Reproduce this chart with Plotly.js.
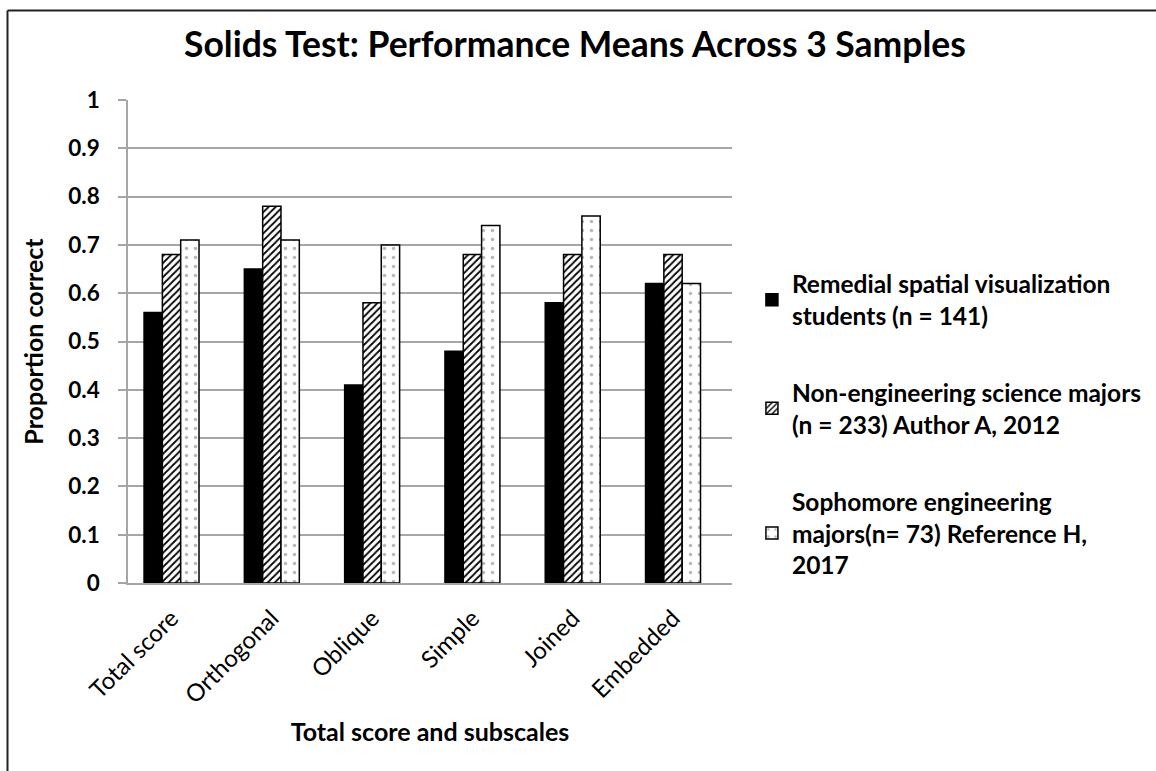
<!DOCTYPE html>
<html>
<head>
<meta charset="utf-8">
<script src="https://cdn.plot.ly/plotly-3.0.1.min.js"></script>
<style>html,body{margin:0;padding:0;background:#fff;}#chart{width:1156px;height:771px;}</style>
</head>
<body>
<div id="chart"></div>
<script>
const categories = ["Total score", "Orthogonal", "Oblique", "Simple", "Joined", "Embedded"];
const remedial = [0.56, 0.65, 0.41, 0.48, 0.58, 0.62];
const nonEngineering = [0.68, 0.78, 0.58, 0.68, 0.68, 0.68];
const sophomore = [0.71, 0.71, 0.70, 0.74, 0.76, 0.62];
const seriesNames = [
  "Remedial spatial visualization<br>students (n = 141)",
  "Non-engineering science majors<br>(n = 233) Author A, 2012",
  "Sophomore engineering<br>majors(n= 73) Reference H,<br>2017"
];
const yTicks = [0, 0.1, 0.2, 0.3, 0.4, 0.5, 0.6, 0.7, 0.8, 0.9, 1];
const yTickText = ["0", "0.1", "0.2", "0.3", "0.4", "0.5", "0.6", "0.7", "0.8", "0.9", "1"];

const FONT = "Lato, 'Open Sans', sans-serif";

const traces = [
  {
    type: "bar", x: categories, y: remedial, name: seriesNames[0], legendgroup: "a",
    marker: {color: "#000000", line: {color: "#000000", width: 1.5}},
    hoverinfo: "y"
  },
  {
    type: "bar", x: categories, y: nonEngineering, name: seriesNames[1], legendgroup: "b",
    marker: {color: "#ffffff", line: {color: "#000000", width: 1.5},
      pattern: {shape: "/", fgcolor: "#000000", bgcolor: "#ffffff", size: 5, solidity: 0.35}},
    hoverinfo: "y"
  },
  {
    type: "bar", x: categories, y: sophomore, name: seriesNames[2], legendgroup: "c",
    marker: {color: "#ffffff", line: {color: "#000000", width: 1.5},
      pattern: {shape: ".", fgcolor: "#b8b8b8", bgcolor: "#ffffff", size: 9, solidity: 0.12}},
    hoverinfo: "y"
  }
];

const layout = {
  width: 1156, height: 771,
  margin: {l: 128, r: 424, t: 100, b: 188, pad: 0, autoexpand: false},
  paper_bgcolor: "#ffffff", plot_bgcolor: "#ffffff",
  font: {family: FONT, color: "#000000"},
  title: {
    text: "Solids Test: Performance Means Across 3 Samples",
    font: {family: FONT, size: 35.5, weight: "bold", color: "#000000"},
    x: 0.74, xanchor: "center", xref: "paper", y: 0.942, yanchor: "middle", yref: "container"
  },
  barmode: "group", bargap: 0.452, bargroupgap: 0,
  showlegend: true,
  legend: {
    x: 1.033, xanchor: "left", y: 0.666, yanchor: "top",
    font: {family: FONT, size: 24.5, weight: "bold", color: "#000000"},
    tracegroupgap: 42, itemwidth: 30, traceorder: "grouped",
    bgcolor: "rgba(0,0,0,0)"
  },
  xaxis: {
    type: "category", range: [-0.434, 5.588],
    tickangle: -45, tickfont: {family: FONT, size: 24, color: "#000000"},
    ticklabelstandoff: 10,
    showgrid: false, showline: true, linecolor: "#a6a6a6", linewidth: 1.5,
    ticks: "", zeroline: false,
    title: {text: "Total score and subscales", standoff: 16,
      font: {family: FONT, size: 25, weight: "bold", color: "#000000"}}
  },
  yaxis: {
    range: [0, 1], tickvals: yTicks, ticktext: yTickText,
    tickfont: {family: FONT, size: 22.5, weight: "bold", color: "#000000"},
    showgrid: true, gridcolor: "#a6a6a6", gridwidth: 1.5,
    showline: true, linecolor: "#a6a6a6", linewidth: 1.5,
    ticks: "outside", ticklen: 8, tickcolor: "#a6a6a6", tickwidth: 1.5,
    ticklabelstandoff: 14, zeroline: false,
    title: {text: "Proportion correct", standoff: 18,
      font: {family: FONT, size: 25, weight: "bold", color: "#000000"}}
  },
  shapes: [
    {type: "line", xref: "paper", yref: "paper", x0: -0.1995, x1: -0.1995, y0: 1.1853, y1: -0.5,
      line: {color: "#222222", width: 2}},
    {type: "line", xref: "paper", yref: "paper", x0: -0.1995, x1: 1.8, y0: 1.1853, y1: 1.1853,
      line: {color: "#222222", width: 2}}
  ]
};

Plotly.newPlot("chart", traces, layout, {displayModeBar: false, responsive: false});
</script>
</body>
</html>
